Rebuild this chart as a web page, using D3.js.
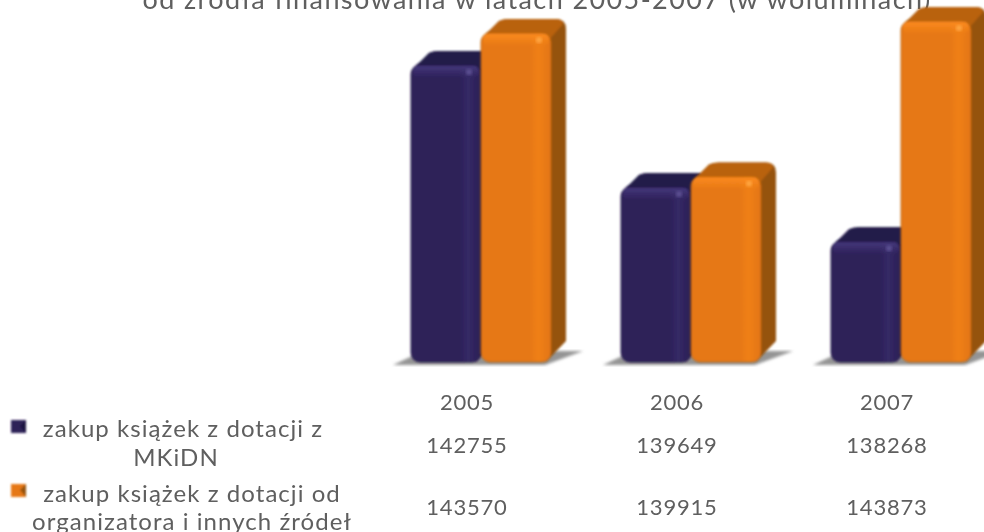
<!DOCTYPE html>
<html lang="pl">
<head>
  <meta charset="UTF-8">
  <title>Zakup książek</title>
  <script src="https://d3js.org/d3.v7.min.js"></script>
  <style>
    body { margin: 0; overflow: hidden; background: #fff; }
    svg { display: block; }
    text { font-family: Lato, sans-serif; fill: #5e5e5e; }
  </style>
</head>
<body>
  <script>
    const years = ["2005", "2006", "2007"];
    const seriesNames = ["mkidn", "inne"];
    const mkidn = [142755, 139649, 138268];
    const inne = [143570, 139915, 143873];
    const legendLines = [
      ["zakup książek z dotacji z", "MKiDN"],
      ["zakup książek z dotacji od", "organizatora i innych źródeł"]
    ];
    const titleText = "od źródła finansowania w latach 2005-2007 (w woluminach)";

    const width = 984, height = 532;
    const baseY = 362, depthX = 15, depthY = 14, radius = 9;

    const colors = {
      mkidn: { front: "#2d2059", stripe: "#352a66", light: "#44377a", top: "#241a4a", side: "#1f1640", edge: "#1f1645" },
      inne: { front: "#e67817", stripe: "#f08019", light: "#fb8a1c", top: "#b9620f", side: "#95530f", edge: "#b5600f" }
    };

    const svg = d3.select("body").append("svg").attr("width", width).attr("height", height);
    const defs = svg.append("defs");

    defs.append("filter").attr("id", "soft")
      .append("feGaussianBlur").attr("stdDeviation", 0.8);
    defs.append("filter").attr("id", "spot")
      .append("feGaussianBlur").attr("stdDeviation", 1.8);
    defs.append("filter").attr("id", "shadowBlur").attr("x", "-10%").attr("width", "120%")
      .append("feGaussianBlur").attr("stdDeviation", 1.5);
    defs.append("filter").attr("id", "textSoft")
      .append("feGaussianBlur").attr("stdDeviation", 0.35);

    seriesNames.forEach(s => {
      const c = colors[s];
      const g = defs.append("linearGradient").attr("id", "front-" + s);
      [[0, c.front], [0.7, c.front], [0.82, c.stripe], [0.95, c.front], [1, c.front]].forEach(([o, col]) => {
        g.append("stop").attr("offset", o).attr("stop-color", col);
      });
      const sh = defs.append("linearGradient").attr("id", "sheen-" + s)
        .attr("x1", 0).attr("y1", 0).attr("x2", 0).attr("y2", 1);
      sh.append("stop").attr("offset", 0).attr("stop-color", c.light).attr("stop-opacity", 1);
      sh.append("stop").attr("offset", 1).attr("stop-color", c.light).attr("stop-opacity", 0);
    });

    const x = d3.scaleBand().domain(years).range([376, 1006]);
    const inner = d3.scaleBand().domain(seriesNames).range([35, 175]);
    const y = d3.scaleLinear().domain([135200, 143873]).range([baseY, 21]);

    const rows = years.map((year, i) => ({ year, mkidn: mkidn[i], inne: inne[i] }));

    // title, cut off by the top edge as in the source picture
    svg.append("text")
      .attr("x", 537).attr("y", 9)
      .attr("text-anchor", "middle")
      .attr("font-size", 27)
      .attr("letter-spacing", 1.4)
      .attr("filter", "url(#textSoft)")
      .text(titleText);

    const groups = svg.selectAll("g.year")
      .data(rows)
      .join("g")
      .attr("class", "year")
      .attr("transform", d => `translate(${x(d.year)},0)`);

    // floor shadow
    groups.append("path")
      .attr("d", () => {
        const left = inner("mkidn"), right = inner("inne") + inner.bandwidth();
        return `M${left - 18},${baseY + 3} L${left + 12},${baseY - 11} L${right + 32},${baseY - 11} L${right - 6},${baseY + 3} Z`;
      })
      .attr("fill", "#949494")
      .attr("filter", "url(#shadowBlur)");

    function drawBar(sel, s) {
      const bw = inner.bandwidth();
      const g = sel.append("g");
      const c = colors[s];
      const faces = g.append("g").attr("filter", "url(#soft)");
      // whole back outline in the side colour
      faces.append("path")
        .attr("fill", c.side)
        .attr("d", d => {
          const x0 = inner(s), x1 = x0 + bw, top = y(d[s]), back = top - depthY;
          return `M${x0},${top + 8} Q${x0 + 2},${top + 2} ${x0 + 9},${top - 3}
            L${x0 + 18},${back + 2} Q${x0 + 22},${back} ${x0 + 28},${back}
            L${x1 + depthX - 10},${back} Q${x1 + depthX},${back} ${x1 + depthX},${back + 10}
            L${x1 + depthX},${baseY - 21} L${x1 - 5},${baseY} Z`;
        });
      // top face
      faces.append("path")
        .attr("fill", c.top)
        .attr("d", d => {
          const x0 = inner(s), x1 = x0 + bw, top = y(d[s]), back = top - depthY;
          return `M${x0},${top + 8} Q${x0 + 2},${top + 2} ${x0 + 9},${top - 3}
            L${x0 + 18},${back + 2} Q${x0 + 22},${back} ${x0 + 28},${back}
            L${x1 + depthX - 10},${back} Q${x1 + depthX - 3},${back} ${x1 + depthX - 3},${back + 5}
            L${x1 - 3},${top + 8} Z`;
        });
      // front face
      faces.append("rect")
        .attr("x", inner(s)).attr("y", d => y(d[s]))
        .attr("width", bw).attr("height", d => baseY - y(d[s]))
        .attr("rx", radius)
        .attr("fill", `url(#front-${s})`)
        .attr("stroke", c.edge).attr("stroke-width", 0.8);
      // light band along the top of the front
      faces.append("rect")
        .attr("x", inner(s) + 2).attr("y", d => y(d[s]) + 1)
        .attr("width", bw - 4).attr("height", 12)
        .attr("rx", 5).attr("fill", `url(#sheen-${s})`);
      // highlight near the top right corner
      g.append("circle")
        .attr("cx", inner(s) + bw - 12).attr("cy", d => y(d[s]) + 7)
        .attr("r", 3)
        .attr("fill", s === "inne" ? "#ffa640" : "#5c5092")
        .attr("filter", "url(#spot)");
    }
    // orange sits in front of navy
    drawBar(groups, "mkidn");
    drawBar(groups, "inne");

    // table under the chart
    const tableY = [410, 453, 515];
    const colX = d3.scaleBand().domain(years).range([362, 992]);

    svg.append("g").selectAll("text")
      .data(years)
      .join("text")
      .attr("x", d => colX(d) + colX.bandwidth() / 2)
      .attr("y", tableY[0])
      .attr("text-anchor", "middle")
      .attr("font-size", 22)
      .attr("letter-spacing", 0.8)
      .attr("filter", "url(#textSoft)")
      .text(d => d);

    [mkidn, inne].forEach((vals, k) => {
      svg.append("g").selectAll("text")
        .data(vals)
        .join("text")
        .attr("x", (d, i) => colX(years[i]) + colX.bandwidth() / 2)
        .attr("y", tableY[k + 1])
        .attr("text-anchor", "middle")
        .attr("font-size", 22)
        .attr("letter-spacing", 0.8)
        .attr("filter", "url(#textSoft)")
        .text(d => d);
    });

    // legend
    const legendMarkY = [420, 484];
    const legendTextY = [[437, 466], [502, 530]];
    const legendX = [[183, 176], [192, 192]];
    seriesNames.forEach((s, k) => {
      const my = legendMarkY[k];
      const mark = svg.append("g").attr("filter", "url(#soft)");
      mark.append("rect")
        .attr("x", 11).attr("y", my)
        .attr("width", 15).attr("height", 13)
        .attr("fill", colors[s].front);
      mark.append("path")
        .attr("d", `M26,${my} L20,${my + 6} L26,${my + 13} Z`)
        .attr("fill", colors[s].side);
      legendLines[k].forEach((line, j) => {
        svg.append("text")
          .attr("x", legendX[k][j]).attr("y", legendTextY[k][j])
          .attr("text-anchor", "middle")
          .attr("font-size", 24)
          .attr("letter-spacing", 1.05)
          .attr("filter", "url(#textSoft)")
          .text(line);
      });
    });
  </script>
</body>
</html>
